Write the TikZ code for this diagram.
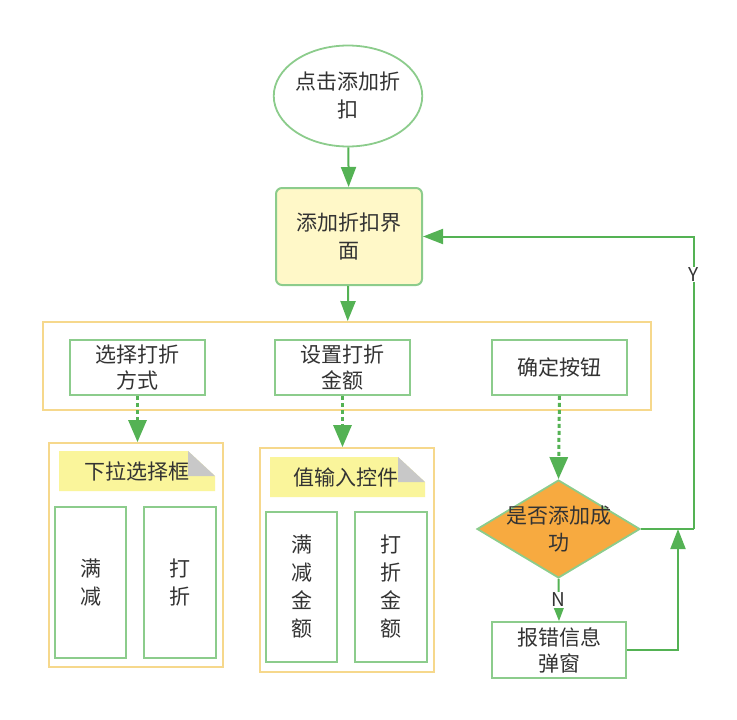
\documentclass[tikz,border=0pt]{standalone}
\usepackage{fontspec}
\setmainfont{Noto Sans CJK SC}
\usetikzlibrary{arrows.meta,shapes.geometric}
\definecolor{arrowgreen}{RGB}{84,178,84}
\definecolor{boxgreen}{RGB}{140,204,140}
\definecolor{contyellow}{RGB}{246,216,140}
\definecolor{ifacefill}{RGB}{255,248,200}
\definecolor{hdrfill}{RGB}{250,245,155}
\definecolor{diamfill}{RGB}{247,170,64}
\definecolor{txt}{RGB}{51,51,51}
\definecolor{foldgray}{RGB}{200,200,200}
\tikzset{
  every node/.style={text=txt,font=\fontsize{21}{28}\selectfont,align=center,inner sep=0pt},
  gbox/.style={draw=boxgreen,line width=1.8pt,fill=white},
  cont/.style={draw=contyellow,line width=1.8pt,fill=white},
  conn/.style={draw=arrowgreen,line width=2pt,-{Triangle[length=20pt,width=15pt]}},
  dconn/.style={draw=arrowgreen,line width=3pt,dash pattern=on 4pt off 3pt,-{Triangle[length=22pt,width=18pt]}},
  plain/.style={draw=arrowgreen,line width=2pt},
  lbl/.style={fill=white,inner sep=1pt,font=\fontsize{19}{22}\selectfont}
}
\begin{document}
\begin{tikzpicture}[x=1pt,y=-1pt]
\useasboundingbox (0,0) rectangle (737,720);
% start
\node[ellipse,gbox,minimum width=148pt,minimum height=101pt] (start) at (348,96) {点击添加折\\扣};
\node[draw=boxgreen,line width=2pt,fill=ifacefill,rounded corners=6pt,minimum width=146pt,minimum height=97pt] (iface) at (349,236.5) {添加折扣界\\面};
% outer container
\node[cont,minimum width=608pt,minimum height=88pt] (outer) at (347,366) {};
\node[gbox,minimum width=135pt,minimum height=55pt,font=\fontsize{21}{26}\selectfont] (sel) at (137.5,367.5) {选择打折\\方式};
\node[gbox,minimum width=135pt,minimum height=55pt,font=\fontsize{21}{26}\selectfont] (set) at (342.5,367.5) {设置打折\\金额};
\node[gbox,minimum width=135pt,minimum height=55pt] (ok) at (559.5,367.5) {确定按钮};
% container A
\node[cont,minimum width=174pt,minimum height=224pt] (contA) at (136,555) {};
\fill[hdrfill] (59,451) -- (188,451) -- (215,476) -- (215,491) -- (59,491) -- cycle;
\fill[foldgray] (188,451) -- (215,476) -- (188,476) -- cycle;
\node (hdrA) at (137,471) {下拉选择框};
\node[gbox,minimum width=71pt,minimum height=151pt] (mjA) at (90.5,582.5) {满\\减};
\node[gbox,minimum width=72pt,minimum height=151pt] (dzA) at (180,582.5) {打\\折};
% container B
\node[cont,minimum width=174pt,minimum height=224pt] (contB) at (347,560) {};
\fill[hdrfill] (270,457) -- (398,457) -- (425,482) -- (425,497) -- (270,497) -- cycle;
\fill[foldgray] (398,457) -- (425,482) -- (398,482) -- cycle;
\node (hdrB) at (346,477) {值输入控件};
\node[gbox,minimum width=71pt,minimum height=150pt] (mjB) at (301.5,587) {满\\减\\金\\额};
\node[gbox,minimum width=72pt,minimum height=150pt] (dzB) at (391,587) {打\\折\\金\\额};
% diamond
\node[diamond,draw=boxgreen,line width=1.8pt,fill=diamfill,minimum width=163pt,minimum height=98pt,aspect=1.66] (diam) at (558.5,529) {};
\node[font=\fontsize{21}{27}\selectfont] (diamtxt) at (diam.center) {是否添加成\\功};
\node[gbox,minimum width=134pt,minimum height=56pt,font=\fontsize{21}{26}\selectfont] (err) at (559,650) {报错信息\\弹窗};
% connectors
\draw[conn] (start) -- (iface);
\draw[conn] (iface) -- (outer);
\draw[dconn] (sel.south) -- (sel.south |- contA.north);
\draw[dconn] (set.south) -- (set.south |- contB.north);
\draw[dconn] (ok.south) -- (diam.north);
\draw[conn] (diam.south) -- node[lbl,pos=0.5] {N} (err.north);
\coordinate (yc) at (694,529);
\coordinate (jn) at (678,529);
\draw[plain] (diam.east) -- (yc);
\draw[conn] (yc) -- node[lbl,pos=0.87] {Y} (yc |- iface.east) -- (iface.east);
\draw[conn] (err.east) -| (jn);
\end{tikzpicture}
\end{document}
